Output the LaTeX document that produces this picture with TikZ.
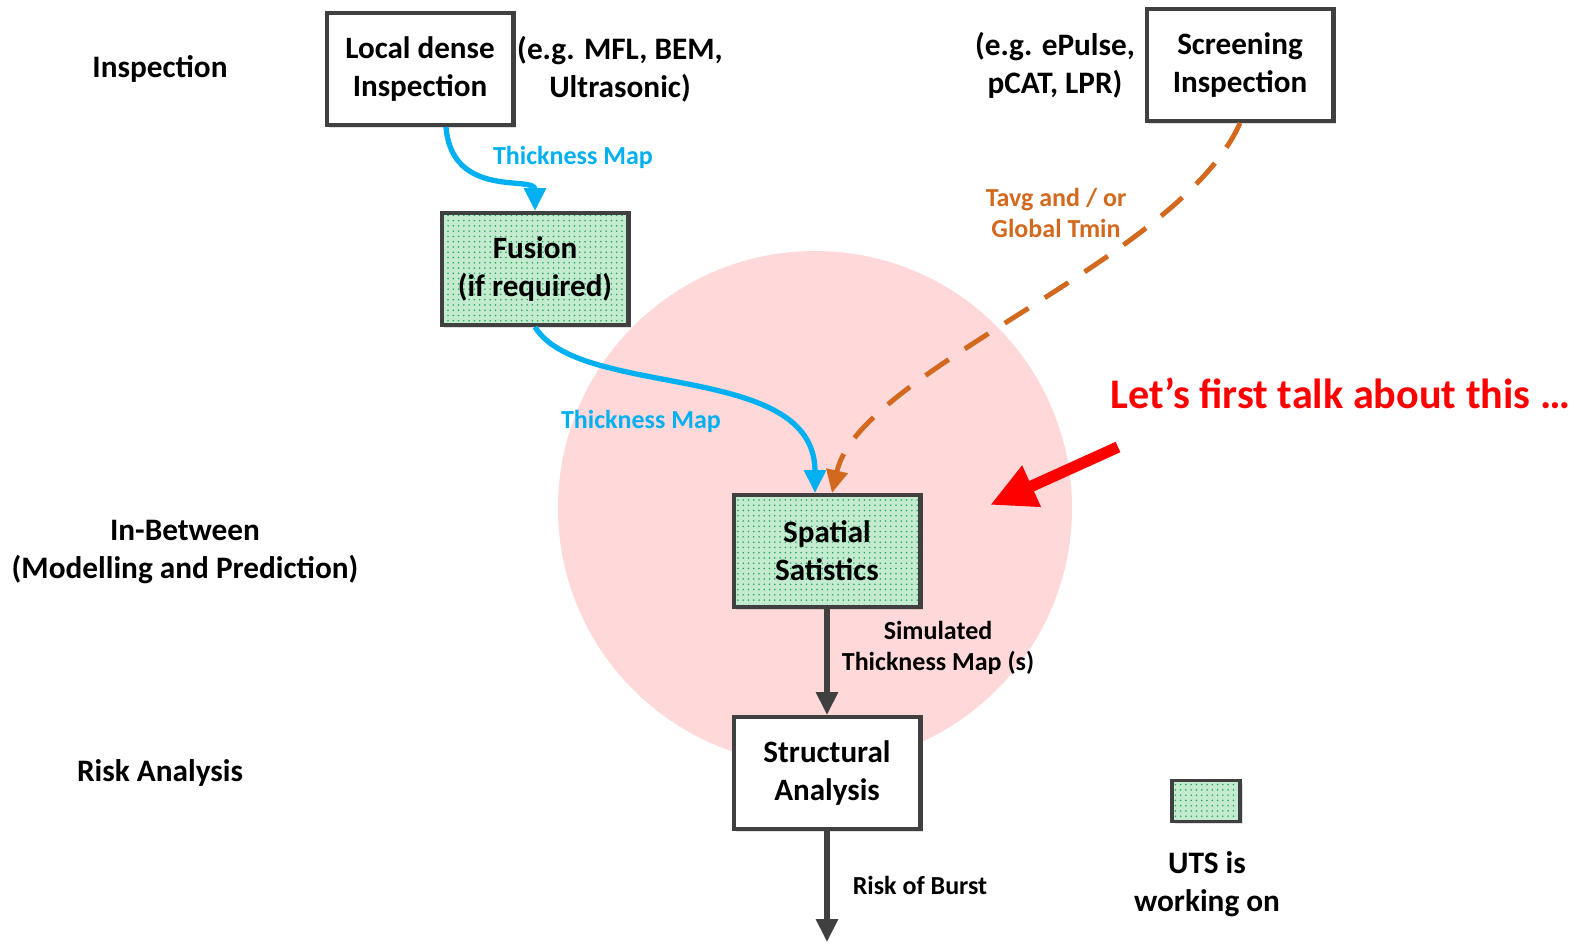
\documentclass[tikz,border=0pt]{standalone}
\usepackage{fontspec}
\setmainfont{Carlito}
\usetikzlibrary{arrows.meta,positioning,patterns,shadows}

\definecolor{mapblue}{RGB}{0,176,240}
\definecolor{tavgorange}{RGB}{210,105,30}
\definecolor{focuspink}{RGB}{255,217,217}
\definecolor{boxgray}{RGB}{64,64,64}
\definecolor{mint}{RGB}{196,234,208}
\definecolor{dotgreen}{RGB}{30,170,90}
\definecolor{alertred}{RGB}{255,0,0}

\tikzset{
  stagebox/.style={draw=boxgray, line width=2.3pt, minimum width=3.74cm, minimum height=2.24cm,
    align=center, font=\fontsize{17.7}{21.5}\selectfont\bfseries,
    drop shadow={shadow xshift=1.5pt, shadow yshift=-1.5pt, opacity=0.25}},
  plainstage/.style={stagebox, fill=white},
  utsstage/.style={stagebox, preaction={fill=mint}, pattern=dots, pattern color=dotgreen},
  sidelabel/.style={align=center, font=\fontsize{17.8}{21.5}\selectfont\bfseries},
  flowlabel/.style={align=center, font=\fontsize{14.8}{17.5}\selectfont\bfseries},
  mapflow/.style={mapblue, line width=3pt, -{Triangle[length=13pt,width=12pt]}},
  tavgflow/.style={tavgorange, line width=2.8pt, dash pattern=on 16pt off 11pt, -{Triangle[length=13pt,width=12pt]}},
  riskflow/.style={boxgray, line width=3pt, -{Triangle[length=13pt,width=12pt]}},
}

\begin{document}
\begin{tikzpicture}[x=0.02cm, y=-0.02cm]
  \useasboundingbox (0,0) rectangle (1583,948);

  % Focus area
  \fill[focuspink] (815,508) circle (257);

  % Row labels
  \node[sidelabel] (rowinsp) at (160,69) {Inspection};
  \node[sidelabel] (rowmodel) at (185,552) {In-Between\\(Modelling and Prediction)};
  \node[sidelabel] (rowrisk) at (160,773) {Risk Analysis};

  % Stages
  \node[plainstage] (local) at (420,69) {Local dense\\Inspection};
  \node[sidelabel] (localeg) at (620,69) {(e.g. MFL, BEM,\\Ultrasonic)};
  \node[plainstage] (screen) at (1240,65) {Screening\\Inspection};
  \node[sidelabel] (screeneg) at (1055,65) {(e.g. ePulse,\\pCAT, LPR)};
  \node[utsstage] (fusion) at (535,269) {Fusion\\(if required)};
  \node[utsstage] (spatial) at (827,551) {Spatial\\Satistics};
  \node[plainstage] (struct) at (827,773) {Structural\\Analysis};

  % Flows
  \draw[mapflow] ([xshift=0.52cm]local.south) .. controls (452,200) and (535,175) .. (fusion.north);
  \node[flowlabel, mapblue] (maplabA) at (573,157) {Thickness Map};
  \draw[mapflow] (fusion.south) .. controls (580,400) and (815,360) .. ([xshift=-0.24cm]spatial.north);
  \node[flowlabel, mapblue] (maplabB) at (641,421) {Thickness Map};
  \draw[tavgflow] (screen.south) .. controls (1180,260) and (860,370) .. ([xshift=0.1cm]spatial.north);
  \node[flowlabel, tavgorange] (tavglab) at (1056,213) {Tavg and / or\\Global Tmin};
  \draw[riskflow] (spatial.south) -- (struct.north);
  \node[flowlabel] (simlab) at (938,648) {Simulated\\Thickness Map (s)};
  \coordinate (burst) at (827,942);
  \draw[riskflow] (struct.south) -- (burst);
  \node[flowlabel] (burstlab) at (920,885) {Risk of Burst};

  % Callout
  \node[font=\fontsize{24}{29}\selectfont\bfseries, alertred, anchor=west] (talk) at (1104,393) {Let’s first talk about this …};
  \coordinate (calltail) at (1118,447);
  \coordinate (callhead) at (990,505);
  \draw[alertred, line width=6.5pt, -{Triangle[length=26pt,width=24pt]}] (calltail) -- (callhead);

  % Legend
  \node[utsstage, minimum width=1.36cm, minimum height=0.82cm, line width=2pt] (legbox) at (1206,801) {};
  \node[sidelabel] (leglab) at (1207,884) {UTS is\\working on};
\end{tikzpicture}
\end{document}
